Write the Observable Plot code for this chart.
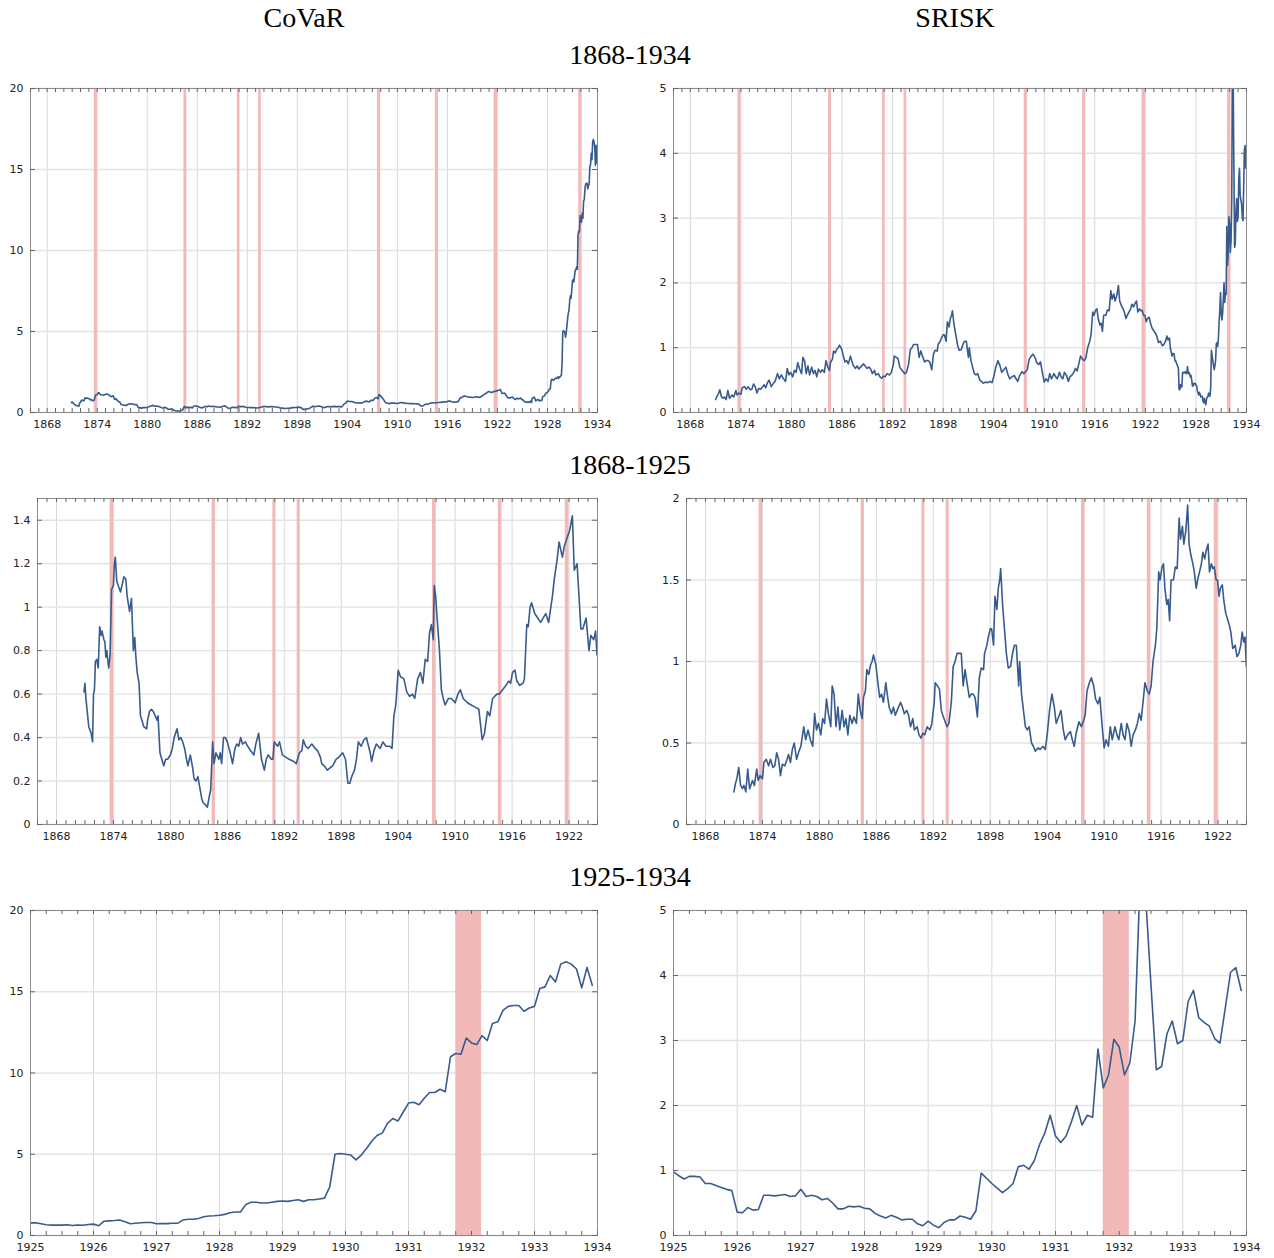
<!DOCTYPE html>
<html><head><meta charset="utf-8">
<script src="https://cdn.jsdelivr.net/npm/d3@7"></script>
<script src="https://cdn.jsdelivr.net/npm/@observablehq/plot@0.6"></script>
<style>
body{margin:0;background:#fff;}
#root{position:relative;width:1274px;height:1258px;overflow:hidden;background:#fff;}
.title{position:absolute;font-family:"Liberation Serif","Times New Roman",serif;font-size:28px;line-height:28px;color:#000;white-space:nowrap;transform:translateX(-50%);}
.panel{position:absolute;}
</style></head><body><div id="root"></div>
<script>
// ---- data ----
const columnTitles = ["CoVaR", "SRISK"];
const rowTitles = ["1868-1934", "1868-1925", "1925-1934"];

// crisis bands [start, end] in decimal years
const crises = [[1873.65,1874.02],[1884.4,1884.75],[1890.8,1891.12],[1893.36,1893.68],[1907.62,1908.0],[1914.55,1914.93],[1921.6,1922.0],[1931.75,1932.16]];

// CoVaR, irregular readings 1871-1925 [year, value]
const covarEarly = [[1870.9,0.61],[1871.0,0.65],[1871.1,0.58],[1871.4,0.45],[1871.65,0.42],[1871.8,0.38],[1871.9,0.6],[1872.0,0.62],[1872.1,0.75],[1872.25,0.76],[1872.4,0.72],[1872.55,0.91],[1872.7,0.87],[1872.8,0.89],[1873.0,0.85],[1873.1,0.84],[1873.2,0.77],[1873.3,0.8],[1873.5,0.72],[1873.65,0.78],[1873.8,1.08],[1874.0,1.1],[1874.1,1.2],[1874.2,1.23],[1874.35,1.12],[1874.5,1.1],[1874.75,1.07],[1874.9,1.1],[1875.1,1.14],[1875.3,1.13],[1875.45,1.05],[1875.7,0.98],[1875.9,1.04],[1876.1,0.8],[1876.25,0.86],[1876.35,0.78],[1876.5,0.7],[1876.7,0.65],[1876.85,0.5],[1877.0,0.48],[1877.2,0.45],[1877.5,0.44],[1877.6,0.48],[1877.8,0.52],[1878.0,0.53],[1878.2,0.52],[1878.4,0.5],[1878.6,0.48],[1878.7,0.5],[1878.9,0.33],[1879.1,0.3],[1879.3,0.27],[1879.5,0.3],[1879.7,0.3],[1880.0,0.32],[1880.2,0.35],[1880.4,0.4],[1880.7,0.44],[1880.9,0.39],[1881.1,0.4],[1881.3,0.38],[1881.5,0.35],[1881.7,0.3],[1881.85,0.27],[1882.1,0.32],[1882.35,0.26],[1882.5,0.21],[1882.7,0.2],[1882.9,0.22],[1883.1,0.17],[1883.3,0.12],[1883.45,0.1],[1883.7,0.09],[1883.9,0.08],[1884.1,0.13],[1884.25,0.16],[1884.45,0.38],[1884.6,0.28],[1884.8,0.33],[1885.1,0.3],[1885.25,0.33],[1885.4,0.28],[1885.6,0.4],[1885.8,0.4],[1886.0,0.38],[1886.3,0.33],[1886.55,0.28],[1886.8,0.35],[1887.0,0.37],[1887.2,0.36],[1887.4,0.4],[1887.6,0.37],[1887.9,0.38],[1888.15,0.36],[1888.45,0.34],[1888.8,0.32],[1889.0,0.37],[1889.3,0.42],[1889.6,0.3],[1889.9,0.25],[1890.1,0.3],[1890.3,0.32],[1890.65,0.3],[1890.8,0.3],[1890.95,0.38],[1891.3,0.36],[1891.5,0.38],[1891.8,0.32],[1892.15,0.31],[1892.5,0.3],[1893.0,0.29],[1893.25,0.28],[1893.6,0.33],[1893.85,0.34],[1894.0,0.39],[1894.25,0.36],[1894.5,0.35],[1894.9,0.37],[1895.25,0.35],[1895.5,0.34],[1895.8,0.31],[1895.95,0.28],[1896.2,0.27],[1896.55,0.25],[1896.8,0.26],[1897.1,0.27],[1897.45,0.3],[1897.75,0.31],[1898.15,0.33],[1898.45,0.3],[1898.7,0.19],[1898.9,0.19],[1899.1,0.22],[1899.4,0.25],[1899.6,0.3],[1899.8,0.38],[1900.1,0.36],[1900.4,0.39],[1900.65,0.4],[1901.05,0.33],[1901.2,0.29],[1901.45,0.34],[1901.7,0.37],[1902.1,0.35],[1902.4,0.38],[1902.7,0.36],[1903.1,0.36],[1903.35,0.35],[1903.55,0.5],[1903.75,0.55],[1904.0,0.71],[1904.25,0.68],[1904.6,0.67],[1904.9,0.61],[1905.2,0.59],[1905.5,0.6],[1905.75,0.58],[1906.05,0.67],[1906.35,0.7],[1906.6,0.65],[1906.85,0.76],[1907.1,0.75],[1907.3,0.88],[1907.5,0.92],[1907.7,0.85],[1907.8,1.1],[1907.95,1.05],[1908.1,0.95],[1908.35,0.8],[1908.55,0.62],[1908.75,0.58],[1908.95,0.55],[1909.3,0.58],[1909.6,0.58],[1910.0,0.56],[1910.3,0.6],[1910.55,0.62],[1910.85,0.58],[1911.3,0.56],[1911.7,0.55],[1912.1,0.54],[1912.5,0.53],[1912.85,0.39],[1913.1,0.42],[1913.4,0.52],[1913.65,0.5],[1913.95,0.58],[1914.4,0.6],[1914.65,0.6],[1915.0,0.62],[1915.35,0.64],[1915.65,0.66],[1915.85,0.65],[1916.05,0.7],[1916.3,0.71],[1916.5,0.66],[1916.8,0.64],[1917.15,0.65],[1917.3,0.67],[1917.55,0.92],[1917.7,0.91],[1917.9,1.0],[1918.05,1.02],[1918.4,0.97],[1918.7,0.95],[1919.0,0.93],[1919.55,0.97],[1919.85,0.93],[1920.25,1.05],[1920.45,1.13],[1920.75,1.22],[1920.95,1.3],[1921.3,1.23],[1921.5,1.28],[1921.8,1.32],[1922.05,1.35],[1922.35,1.42],[1922.55,1.17],[1922.85,1.2],[1923.05,1.05],[1923.25,0.9],[1923.45,0.9],[1923.8,0.95],[1924.1,0.8],[1924.3,0.87],[1924.6,0.85],[1924.8,0.89],[1924.95,0.78]];

// CoVaR monthly, Jan 1925 - Dec 1933
const covarMonthly = [
 0.78,0.78,0.72,0.66,0.64,0.64,0.64,0.66,0.62,0.65,0.63,0.68,
 0.70,0.60,0.88,0.90,0.92,0.95,0.85,0.72,0.75,0.78,0.80,0.80,
 0.72,0.74,0.73,0.75,0.75,0.95,1.00,1.00,1.05,1.15,1.20,1.22,
 1.25,1.30,1.40,1.45,1.45,1.90,2.05,2.05,2.00,2.00,2.05,2.10,
 2.12,2.10,2.15,2.20,2.10,2.20,2.20,2.25,2.30,3.00,5.00,5.05,
 5.00,4.95,4.65,4.95,5.35,5.80,6.15,6.30,6.90,7.20,7.05,7.60,
 8.15,8.20,8.05,8.45,8.80,8.80,9.00,8.85,11.00,11.20,11.15,12.15,
 11.85,11.75,12.30,12.00,13.05,13.15,13.85,14.10,14.15,14.15,13.80,14.00,
 14.10,15.20,15.30,16.00,15.60,16.70,16.85,16.70,16.40,15.25,16.50,15.40];

// SRISK, irregular readings 1871-1925 [year, value]
const sriskEarly = [[1871.0,0.2],[1871.15,0.25],[1871.3,0.28],[1871.5,0.35],[1871.7,0.24],[1871.9,0.22],[1872.05,0.24],[1872.25,0.2],[1872.45,0.34],[1872.65,0.22],[1872.95,0.27],[1873.15,0.24],[1873.4,0.34],[1873.55,0.27],[1873.75,0.3],[1874.0,0.28],[1874.15,0.38],[1874.4,0.4],[1874.65,0.36],[1874.85,0.4],[1875.1,0.35],[1875.3,0.36],[1875.5,0.44],[1875.7,0.4],[1875.9,0.3],[1876.1,0.37],[1876.35,0.36],[1876.6,0.4],[1876.75,0.43],[1876.95,0.38],[1877.15,0.46],[1877.35,0.5],[1877.6,0.4],[1877.85,0.45],[1878.05,0.48],[1878.35,0.6],[1878.55,0.52],[1878.8,0.58],[1879.05,0.52],[1879.3,0.48],[1879.5,0.68],[1879.7,0.58],[1879.9,0.62],[1880.15,0.55],[1880.35,0.65],[1880.55,0.62],[1880.75,0.77],[1880.95,0.68],[1881.2,0.6],[1881.35,0.85],[1881.55,0.8],[1881.75,0.6],[1881.95,0.72],[1882.15,0.58],[1882.4,0.7],[1882.6,0.6],[1882.8,0.65],[1883.0,0.55],[1883.2,0.67],[1883.45,0.62],[1883.65,0.66],[1883.9,0.62],[1884.1,0.8],[1884.3,0.7],[1884.5,0.65],[1884.65,0.78],[1884.85,0.82],[1885.0,0.95],[1885.2,0.92],[1885.4,0.98],[1885.55,1.0],[1885.7,1.04],[1885.95,0.98],[1886.2,0.85],[1886.35,0.78],[1886.55,0.8],[1886.75,0.75],[1887.0,0.87],[1887.15,0.8],[1887.35,0.72],[1887.6,0.68],[1887.8,0.72],[1888.0,0.67],[1888.2,0.7],[1888.55,0.75],[1888.75,0.72],[1888.95,0.68],[1889.2,0.7],[1889.4,0.67],[1889.6,0.6],[1889.85,0.65],[1890.0,0.58],[1890.3,0.6],[1890.5,0.55],[1890.7,0.53],[1890.9,0.56],[1891.1,0.55],[1891.35,0.6],[1891.65,0.58],[1891.85,0.62],[1892.1,0.75],[1892.2,0.87],[1892.45,0.85],[1892.65,0.83],[1892.85,0.7],[1893.0,0.67],[1893.25,0.63],[1893.45,0.6],[1893.65,0.62],[1893.9,0.75],[1894.1,0.97],[1894.3,1.0],[1894.5,1.05],[1894.75,1.05],[1894.95,1.05],[1895.15,0.85],[1895.35,0.95],[1895.55,0.87],[1895.8,0.78],[1896.0,0.8],[1896.2,0.8],[1896.4,0.78],[1896.65,0.66],[1896.85,0.9],[1897.05,0.96],[1897.3,0.95],[1897.4,1.05],[1897.65,1.1],[1897.8,1.15],[1898.0,1.2],[1898.15,1.2],[1898.35,1.1],[1898.5,1.4],[1898.7,1.32],[1898.85,1.45],[1899.0,1.5],[1899.1,1.57],[1899.3,1.35],[1899.5,1.2],[1899.7,1.05],[1899.9,0.96],[1900.15,0.97],[1900.35,1.05],[1900.55,1.1],[1900.75,1.1],[1901.0,0.85],[1901.1,1.0],[1901.3,0.8],[1901.5,0.7],[1901.7,0.6],[1901.9,0.58],[1902.1,0.6],[1902.35,0.5],[1902.55,0.48],[1902.75,0.45],[1903.05,0.47],[1903.25,0.46],[1903.55,0.48],[1903.8,0.46],[1904.0,0.55],[1904.25,0.7],[1904.5,0.8],[1904.75,0.72],[1904.95,0.62],[1905.2,0.66],[1905.45,0.7],[1905.7,0.58],[1905.9,0.52],[1906.15,0.55],[1906.45,0.57],[1906.65,0.52],[1906.85,0.48],[1907.05,0.56],[1907.35,0.63],[1907.6,0.6],[1907.85,0.64],[1908.0,0.67],[1908.2,0.82],[1908.45,0.87],[1908.65,0.9],[1908.9,0.85],[1909.1,0.77],[1909.35,0.74],[1909.55,0.78],[1909.8,0.6],[1910.0,0.47],[1910.2,0.52],[1910.45,0.48],[1910.65,0.6],[1910.85,0.52],[1911.15,0.6],[1911.35,0.55],[1911.55,0.52],[1911.8,0.62],[1912.0,0.55],[1912.2,0.52],[1912.4,0.62],[1912.65,0.57],[1912.85,0.48],[1913.05,0.55],[1913.3,0.58],[1913.5,0.62],[1913.7,0.68],[1913.9,0.64],[1914.1,0.75],[1914.3,0.87],[1914.55,0.82],[1914.75,0.8],[1914.95,0.85],[1915.15,1.0],[1915.4,1.1],[1915.55,1.2],[1915.75,1.55],[1915.9,1.5],[1916.1,1.58],[1916.25,1.6],[1916.4,1.45],[1916.6,1.35],[1916.75,1.38],[1916.9,1.25],[1917.05,1.5],[1917.3,1.5],[1917.5,1.58],[1917.7,1.57],[1917.9,1.88],[1918.05,1.75],[1918.25,1.83],[1918.4,1.72],[1918.6,1.8],[1918.8,1.96],[1918.95,1.72],[1919.15,1.65],[1919.35,1.6],[1919.5,1.55],[1919.7,1.45],[1919.85,1.5],[1920.05,1.55],[1920.25,1.6],[1920.4,1.67],[1920.6,1.63],[1920.75,1.68],[1920.95,1.72],[1921.1,1.55],[1921.3,1.6],[1921.45,1.57],[1921.6,1.58],[1921.8,1.5],[1921.95,1.5],[1922.1,1.4],[1922.25,1.45],[1922.45,1.47],[1922.6,1.38],[1922.8,1.3],[1923.05,1.25],[1923.2,1.22],[1923.35,1.18],[1923.55,1.08],[1923.8,1.1],[1924.0,1.03],[1924.2,1.05],[1924.4,1.1],[1924.55,1.18],[1924.7,1.12],[1924.85,1.15],[1924.98,0.97]];

// SRISK monthly, Jan 1925 - Dec 1933
const sriskMonthly = [
 0.98,0.92,0.87,0.91,0.91,0.90,0.80,0.80,0.77,0.74,0.71,0.69,
 0.36,0.35,0.43,0.39,0.40,0.62,0.62,0.61,0.62,0.63,0.60,0.61,
 0.71,0.60,0.62,0.60,0.55,0.57,0.50,0.41,0.41,0.45,0.44,0.45,
 0.42,0.41,0.34,0.30,0.27,0.31,0.28,0.24,0.25,0.25,0.18,0.15,
 0.22,0.16,0.12,0.20,0.24,0.24,0.30,0.28,0.25,0.38,0.96,0.88,
 0.80,0.73,0.66,0.72,0.80,1.06,1.08,1.02,1.15,1.40,1.58,1.85,
 1.53,1.43,1.53,1.75,2.00,1.70,1.85,1.82,2.87,2.27,2.47,3.02,
 2.90,2.47,2.65,3.30,5.60,5.20,3.85,2.55,2.60,3.10,3.30,2.95,
 3.00,3.60,3.77,3.35,3.28,3.22,3.03,2.96,3.50,4.05,4.12,3.77];

// tick values
const yearTicksLong = [1868,1874,1880,1886,1892,1898,1904,1910,1916,1922,1928,1934];
const yearTicksMid = [1868,1874,1880,1886,1892,1898,1904,1910,1916,1922];
const yearTicksShort = [1925,1926,1927,1928,1929,1930,1931,1932,1933,1934];
const covarTicksWide = [0,5,10,15,20];
const covarTicksMid = [0,0.2,0.4,0.6,0.8,1,1.2,1.4];
const sriskTicksWide = [0,1,2,3,4,5];
const sriskTicksMid = [0,0.5,1,1.5,2];

// ---- build ----
const covar = covarEarly.concat(covarMonthly.map((v,i)=>[1925+i/12, v]));
const srisk = sriskEarly.concat(sriskMonthly.map((v,i)=>[1925+i/12, v]));

const root = document.getElementById("root");
function addTitle(text, cx, top){
  const d = document.createElement("div");
  d.className = "title"; d.textContent = text;
  d.style.left = cx + "px"; d.style.top = top + "px";
  root.appendChild(d);
}
addTitle(columnTitles[0], 304, 4);
addTitle(columnTitles[1], 955, 4);
addTitle(rowTitles[0], 630, 41);
addTitle(rowTitles[1], 630, 451);
addTitle(rowTitles[2], 630, 863);

function panel(o){
  const [fx0,fx1,fy0,fy1] = o.frame;
  const marginLeft = fx0 - o.left, marginRight = o.left + o.width - fx1;
  const marginTop = fy0 - o.top, marginBottom = 22;
  const height = fy1 - o.top + marginBottom;
  const fh = fy1 - fy0, fw = fx1 - fx0;
  const [x0,x1] = o.xDomain;
  const data = o.data.filter(d => d[0] >= x0 - 1e-6 && d[0] <= x1 + 1e-6);
  const bands = crises.filter(c => c[1] > x0 && c[0] < x1).map(c => [Math.max(c[0],x0), Math.min(c[1],x1)]);
  const minor = o.minor;
  const p = Plot.plot({
    width: o.width, height, marginLeft, marginRight, marginTop, marginBottom,
    style: {fontFamily: "'DejaVu Sans', sans-serif", fontSize: "11px", color: "#222", background: "transparent", overflow: "visible"},
    x: {domain: o.xDomain, ticks: o.xTicks, tickFormat: d => String(d), tickSize: 0, tickPadding: 8, label: null},
    y: {domain: o.yDomain, ticks: o.yTicks, tickFormat: d => String(d), tickSize: 0, tickPadding: 7, label: null},
    marks: [
      Plot.ruleX(o.xTicks, {x: d => d, stroke: "#d9d9d9", strokeWidth: 1}),
      Plot.ruleY(o.yTicks, {y: d => d, stroke: "#e3e3e3", strokeWidth: 1.4}),
      Plot.rect(bands, {x1: d => d[0], x2: d => d[1], y1: () => o.yDomain[0], y2: () => o.yDomain[1], fill: "#f2b9b9"}),
      Plot.line(data, {x: d => d[0], y: d => d[1], stroke: "#385b8e", strokeWidth: 1.6, clip: true}),
      Plot.frame({stroke: "#8c8c8c"}),
      Plot.tickX(minor, {x: d => d, insetTop: fh - 4, stroke: "#666"}),
      Plot.tickX(minor, {x: d => d, insetBottom: fh - 4, stroke: "#666"}),
      Plot.tickY(o.yTicks, {y: d => d, insetRight: fw - 5, stroke: "#666"}),
      Plot.tickY(o.yTicks, {y: d => d, insetLeft: fw - 5, stroke: "#666"})
    ]
  });
  const wrap = document.createElement("div");
  wrap.className = "panel";
  wrap.style.left = o.left + "px"; wrap.style.top = o.top + "px";
  wrap.appendChild(p);
  root.appendChild(wrap);
}

const yearsLong = d3.range(1866, 1935);
const yearsMid = d3.range(1866, 1926);
const quarters = d3.range(0, 37).map(i => 1925 + i/4);

panel({data: covar, left: 0, top: 80, width: 610, frame: [30,597,88,412], xDomain: [1866,1934], xTicks: yearTicksLong, minor: yearsLong, yDomain: [0,20], yTicks: covarTicksWide});
panel({data: srisk, left: 640, top: 80, width: 620, frame: [673,1246,88,412], xDomain: [1866,1934], xTicks: yearTicksLong, minor: yearsLong, yDomain: [0,5], yTicks: sriskTicksWide});
panel({data: covar, left: 0, top: 490, width: 610, frame: [37,597,498,824], xDomain: [1866,1925], xTicks: yearTicksMid, minor: yearsMid, yDomain: [0,1.5], yTicks: covarTicksMid});
panel({data: srisk, left: 640, top: 490, width: 620, frame: [686,1246,498,824], xDomain: [1866,1925], xTicks: yearTicksMid, minor: yearsMid, yDomain: [0,2], yTicks: sriskTicksMid});
panel({data: covar, left: 0, top: 902, width: 610, frame: [30,597,910,1235], xDomain: [1925,1934], xTicks: yearTicksShort, minor: quarters, yDomain: [0,20], yTicks: covarTicksWide});
panel({data: srisk, left: 640, top: 902, width: 620, frame: [673,1246,910,1235], xDomain: [1925,1934], xTicks: yearTicksShort, minor: quarters, yDomain: [0,5], yTicks: sriskTicksWide});
</script>
</body></html>
